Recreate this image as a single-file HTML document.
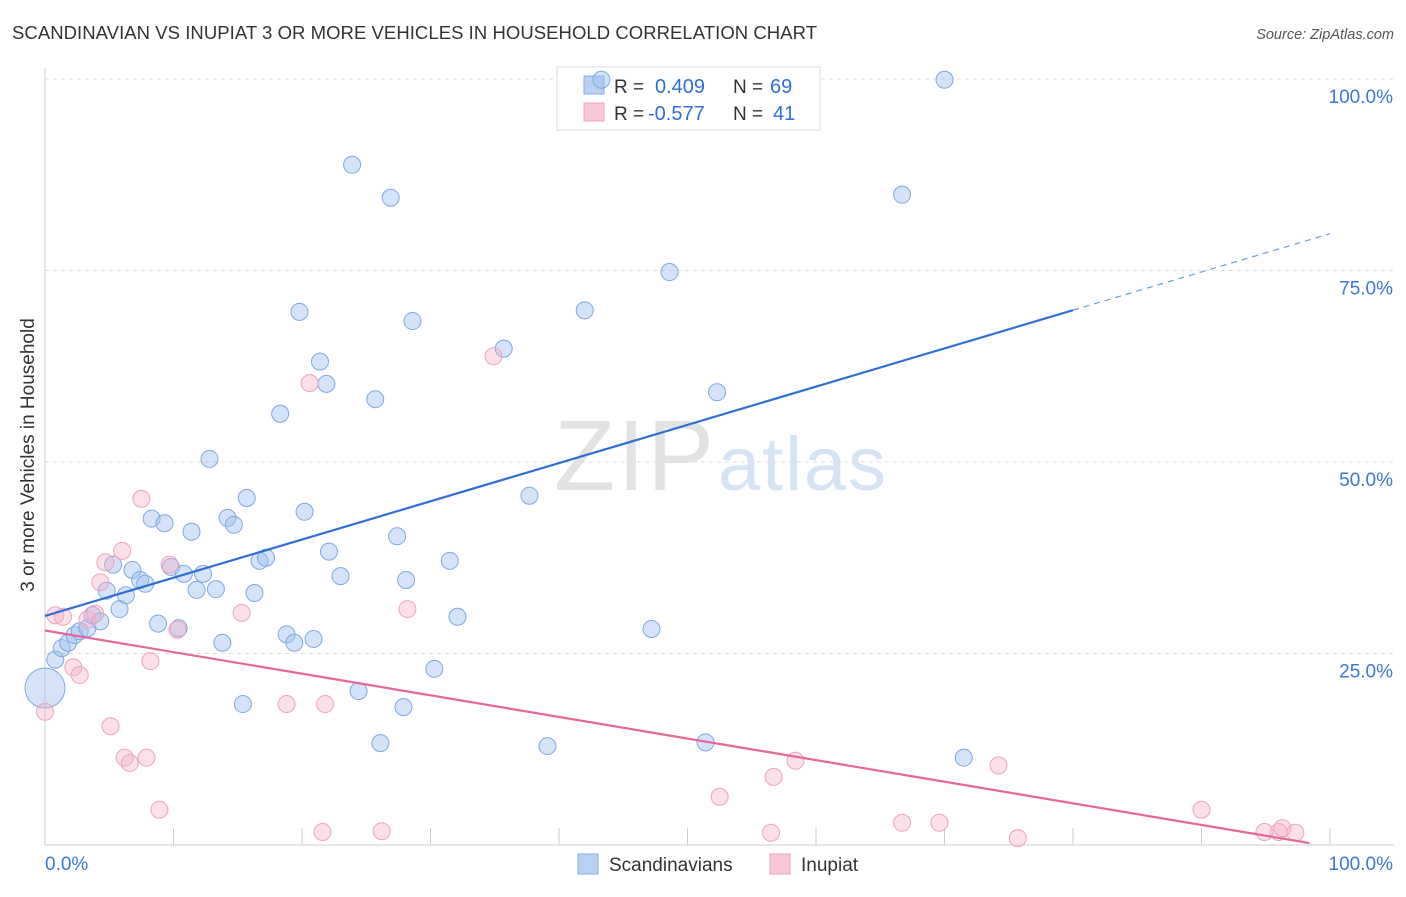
<!DOCTYPE html>
<html><head><meta charset="utf-8"><style>
body{margin:0;background:#fff;font-family:"Liberation Sans",sans-serif}
svg text{font-family:"Liberation Sans",sans-serif}
</style></head><body>
<svg id="c" width="1406" height="892">
<text x="12" y="39" font-size="18.5" fill="#333" textLength="805">SCANDINAVIAN VS INUPIAT 3 OR MORE VEHICLES IN HOUSEHOLD CORRELATION CHART</text>
<text x="1394" y="39" font-size="14.5" fill="#555" font-style="italic" text-anchor="end">Source: ZipAtlas.com</text>
<text transform="translate(34,455) rotate(-90)" font-size="19" fill="#333" text-anchor="middle">3 or more Vehicles in Household</text>
<g><text x="554" y="490" font-size="100" fill="#e2e2e2" font-family="Liberation Serif" textLength="160">ZIP</text><text x="718" y="490" font-size="76" fill="#d6e3f5" textLength="168">atlas</text></g>
<g id="grid"></g>
<g>
<rect x="557" y="67" width="263" height="63" fill="#fff" stroke="#ddd"/>
<rect x="584" y="76" width="20" height="18" fill="#b8d0f2" stroke="#86aee6"/>
<rect x="584" y="103" width="20" height="18" fill="#f8c6d6" stroke="#eea3bd"/>
<text x="614" y="93" font-size="19" fill="#333">R =</text>
<text x="655" y="93" font-size="20" fill="#2f6fd6">0.409</text>
<text x="733" y="93" font-size="19" fill="#333">N =</text>
<text x="770" y="93" font-size="20" fill="#2f6fd6">69</text>
<text x="614" y="120" font-size="19" fill="#333">R =</text>
<text x="648" y="120" font-size="20" fill="#2f6fd6">-0.577</text>
<text x="733" y="120" font-size="19" fill="#333">N =</text>
<text x="773" y="120" font-size="20" fill="#2f6fd6">41</text>
</g>
<g id="pts"></g><g id="trend"></g>
<g>
<rect x="578" y="854" width="20" height="20" fill="#b8d0f2" stroke="#86aee6"/>
<text x="609" y="871" font-size="19" fill="#333">Scandinavians</text>
<rect x="770" y="854" width="20" height="20" fill="#f8c6d6" stroke="#eea3bd"/>
<text x="801" y="871" font-size="19" fill="#333">Inupiat</text>
</g>
</svg>
<script>
const yTicks=[25,50,75,100];
const yTickLabels=["25.0%","50.0%","75.0%","100.0%"];
const xTicks=[10,20,30,40,50,60,70,80,90,100];
const blueX=[0,0.8,1.3,1.8,2.3,2.7,3.3,3.7,4.3,4.8,5.3,5.8,6.3,6.8,7.4,7.8,8.3,8.8,9.3,9.8,10.4,10.8,11.4,11.8,12.3,12.8,13.3,13.8,14.2,14.7,15.4,15.7,16.3,16.7,17.2,18.3,18.8,19.4,19.8,20.2,20.9,21.4,21.9,22.1,23.0,23.9,24.4,25.7,26.1,26.9,27.4,27.9,28.1,28.6,30.3,31.5,32.1,35.7,37.7,39.1,42.0,43.3,47.2,48.6,51.4,52.3,66.7,70.0,71.5];
const blueY=[20.5,24.2,25.7,26.4,27.4,27.9,28.3,30.0,29.2,33.2,36.6,30.8,32.6,35.9,34.6,34.1,42.6,28.9,42.0,36.3,28.3,35.4,40.9,33.3,35.4,50.4,33.4,26.4,42.7,41.8,18.4,45.3,32.9,37.1,37.5,56.3,27.5,26.4,69.6,43.5,26.9,63.1,60.2,38.3,35.1,88.8,20.1,58.2,13.3,84.5,40.3,18.0,34.6,68.4,23.0,37.1,29.8,64.8,45.6,12.9,69.8,99.9,28.2,74.8,13.4,59.1,84.9,99.9,11.4];
const pinkX=[0,0.8,1.4,2.2,2.7,3.3,3.9,4.3,4.7,5.1,6.0,6.2,6.6,7.5,7.9,8.2,8.9,9.7,10.3,15.3,18.8,20.6,21.6,21.8,26.2,28.2,34.9,52.5,56.7,56.5,58.4,66.7,69.6,74.2,75.7,90.0,94.9,96.0,96.3,97.3];
const pinkY=[17.4,30.0,29.8,23.2,22.2,29.4,30.2,34.3,36.9,15.5,38.4,11.4,10.7,45.2,11.4,24.0,4.6,36.6,28.1,30.3,18.4,60.3,1.7,18.4,1.8,30.8,63.8,6.3,8.9,1.6,11.0,2.9,2.9,10.4,0.9,4.6,1.7,1.7,2.2,1.6];
const blueTrend=[29.9,0.499];
const pinkTrend=[28.0,-0.282];
const sx=v=>45+v*12.85, sy=v=>845-v*7.66;
const NS="http://www.w3.org/2000/svg";
function mk(t,a,p){const e=document.createElementNS(NS,t);for(const k in a)e.setAttribute(k,a[k]);p.appendChild(e);return e;}
const grid=document.getElementById('grid');
mk('line',{x1:45,y1:845,x2:1394,y2:845,stroke:'#ccc'},grid);
mk('line',{x1:45,y1:68,x2:45,y2:845,stroke:'#ccc'},grid);
yTicks.forEach((t,i)=>{
 const g=mk('line',{x1:45,y1:sy(t),x2:1394,y2:sy(t),stroke:'#ddd','stroke-dasharray':'4,4'},grid);
 
 
 const l=mk('text',{x:1393,y:sy(t)+24,'font-size':19,fill:'#3b78d8','text-anchor':'end'},grid);l.textContent=yTickLabels[i];
 
 
});
xTicks.forEach(t=>{
 const l=mk('line',{x1:sx(t),y1:828,x2:sx(t),y2:845,stroke:'#ccc'},grid);
 
 
});
const x0=mk('text',{x:45,y:870,'font-size':19,fill:'#3b78d8'},grid);x0.textContent='0.0%';


const x1=mk('text',{x:1393,y:870,'font-size':19,fill:'#3b78d8','text-anchor':'end'},grid);x1.textContent='100.0%';


const pts=document.getElementById('pts');
blueX.forEach((x,i)=>{
 const c=mk('circle',{cx:sx(x),cy:sy(blueY[i]),r:i==0?20:8.5,fill:'rgba(160,192,238,0.45)',stroke:'#7fa8e2','stroke-width':1},pts);
 
 
});
pinkX.forEach((x,i)=>{
 const c=mk('circle',{cx:sx(x),cy:sy(pinkY[i]),r:8.5,fill:'rgba(246,175,200,0.4)',stroke:'#eea3bd','stroke-width':1},pts);
 
 
});
const tr=document.getElementById('trend');
const b1=mk('line',{x1:sx(0),y1:sy(blueTrend[0]),x2:sx(80),y2:sy(blueTrend[0]+80*blueTrend[1]),stroke:'#2f6fd6','stroke-width':2.2},tr);


const b2=mk('line',{x1:sx(80),y1:sy(blueTrend[0]+80*blueTrend[1]),x2:sx(100),y2:sy(blueTrend[0]+100*blueTrend[1]),stroke:'#6a9be0','stroke-width':1.2,'stroke-dasharray':'6,5'},tr);


const p1=mk('line',{x1:sx(0),y1:sy(pinkTrend[0]),x2:sx(98.4),y2:sy(pinkTrend[0]+98.4*pinkTrend[1]),stroke:'#e8669a','stroke-width':2.2},tr);


</script>
</body></html>
